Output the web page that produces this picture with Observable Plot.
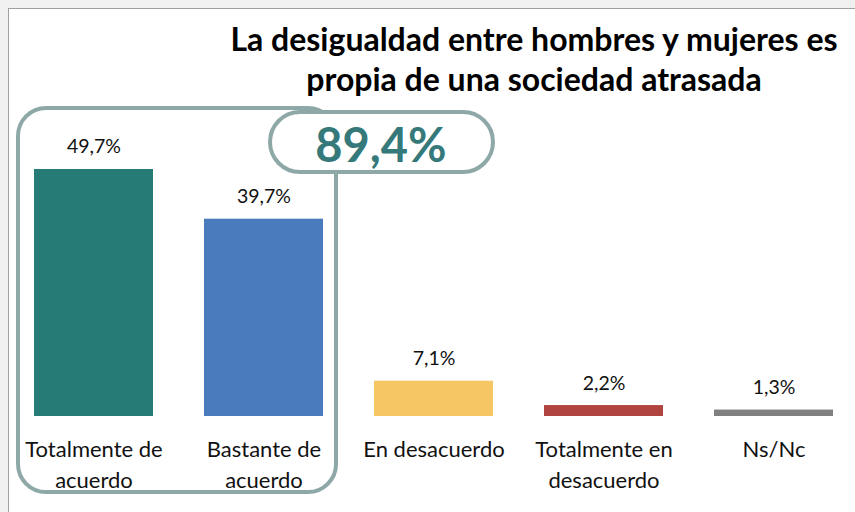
<!DOCTYPE html>
<html>
<head>
<meta charset="utf-8">
<script src="https://cdn.jsdelivr.net/npm/d3@7"></script>
<script src="https://cdn.jsdelivr.net/npm/@observablehq/plot@0.6"></script>
<style>
  html, body { margin: 0; padding: 0; background: #f0f0f0; overflow: hidden; }
  svg { display: block; }
</style>
</head>
<body>
<div id="chart"></div>
<script>
const titleLines = ["La desigualdad entre hombres y mujeres es", "propia de una sociedad atrasada"];
const categories = ["Totalmente de\nacuerdo", "Bastante de\nacuerdo", "En desacuerdo", "Totalmente en\ndesacuerdo", "Ns/Nc"];
const values = [49.7, 39.7, 7.1, 2.2, 1.3];
const colors = ["#277b77", "#4a7bbd", "#f6c564", "#b04441", "#808080"];
const valueLabels = ["49,7%", "39,7%", "7,1%", "2,2%", "1,3%"];
const totalLabel = "89,4%";

const data = categories.map((c, i) => ({cat: c, value: values[i], color: colors[i], label: valueLabels[i]}));
const FONT = "Lato, 'Open Sans', sans-serif";

const chart = Plot.plot({
  width: 855,
  height: 512,
  marginLeft: 7.5,
  marginRight: -3.5,
  marginTop: 167.5,
  marginBottom: 96,
  style: {fontFamily: FONT, background: "#f0f0f0", overflow: "hidden"},
  x: {domain: categories, paddingInner: 0.3, paddingOuter: 0.15, axis: null},
  y: {domain: [0, 50], axis: null},
  marks: [
    Plot.barY(data, {x: "cat", y: "value", fill: "color"}),
    Plot.text(data, {x: "cat", y: "value", text: "label", dy: -16, lineAnchor: "bottom",
      fontSize: 19.5, fill: "#111"}),
    Plot.text(data, {x: "cat", y: 0, text: d => d.cat.split("\n")[0], dy: 40, lineAnchor: "bottom",
      fontSize: 22, fill: "#111"}),
    Plot.text(data.filter(d => d.cat.includes("\n")), {x: "cat", y: 0, text: d => d.cat.split("\n")[1], dy: 71, lineAnchor: "bottom",
      fontSize: 22, fill: "#111"})
  ]
});

const svg = d3.select(chart);
const xs = chart.scale("x");
const bw = xs.bandwidth;

// white chart area with border, placed behind everything
svg.insert("rect", ":first-child")
  .attr("x", 8.5).attr("y", 8.5).attr("width", 900).attr("height", 600)
  .attr("fill", "#ffffff").attr("stroke", "#a0a0a0").attr("stroke-width", 1);

// title
const title = svg.append("text")
  .attr("text-anchor", "middle")
  .attr("font-family", FONT)
  .attr("font-weight", "bold")
  .attr("font-size", 32)
  .attr("fill", "#000");
titleLines.forEach((t, i) => {
  title.append("tspan").attr("x", 534).attr("y", 51 + i * 40).text(t);
});

// grouping box around the first two bars
const gx0 = xs.apply(categories[0]) - 16;
const gx1 = xs.apply(categories[1]) + bw + 13;
const boxStroke = "#8ea8a8";
svg.append("rect")
  .attr("x", gx0).attr("y", 108).attr("width", gx1 - gx0).attr("height", 492 - 108)
  .attr("rx", 28).attr("ry", 28)
  .attr("fill", "none").attr("stroke", boxStroke).attr("stroke-width", 4);

// pill with total
const px0 = 270, px1 = 493, py0 = 112, py1 = 172;
svg.append("rect")
  .attr("x", px0).attr("y", py0).attr("width", px1 - px0).attr("height", py1 - py0)
  .attr("rx", (py1 - py0) / 2).attr("ry", (py1 - py0) / 2)
  .attr("fill", "#ffffff").attr("stroke", boxStroke).attr("stroke-width", 4);
svg.append("text")
  .attr("x", (px0 + px1) / 2 - 0.5).attr("y", 162)
  .attr("text-anchor", "middle")
  .attr("font-family", FONT).attr("font-weight", "bold").attr("font-size", 47)
  .attr("fill", "#35797a")
  .text(totalLabel);

document.getElementById("chart").appendChild(chart);
</script>
</body>
</html>
